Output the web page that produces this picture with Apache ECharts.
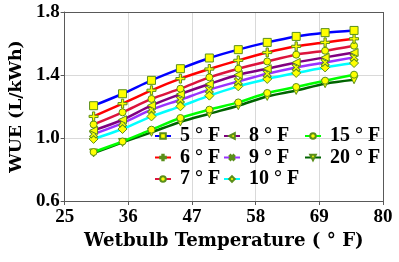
<!DOCTYPE html>
<html><head><meta charset="utf-8">
<script src="https://cdn.jsdelivr.net/npm/echarts@6/dist/echarts.min.js"></script>
<style>html,body{margin:0;padding:0;background:#fff}#c{width:399px;height:262px}</style>
</head><body><div id="c"></div>
<script>
const wetbulb = [30, 35, 40, 45, 50, 55, 60, 65, 70, 75];
const seriesNames = ['5 ° F', '6 ° F', '7 ° F', '8 ° F', '9 ° F', '10 ° F', '15 ° F', '20 ° F'];
const wue5  = [1.205, 1.281, 1.366, 1.440, 1.508, 1.561, 1.607, 1.645, 1.669, 1.683];
const wue6  = [1.137, 1.218, 1.303, 1.377, 1.438, 1.493, 1.543, 1.582, 1.607, 1.630];
const wue7  = [1.086, 1.163, 1.248, 1.313, 1.385, 1.440, 1.486, 1.529, 1.554, 1.586];
const wue8  = [1.048, 1.116, 1.207, 1.279, 1.343, 1.402, 1.440, 1.480, 1.512, 1.543];
const wue9  = [1.025, 1.095, 1.180, 1.243, 1.307, 1.359, 1.408, 1.448, 1.480, 1.512];
const wue10 = [0.994, 1.057, 1.137, 1.201, 1.269, 1.328, 1.375, 1.413, 1.448, 1.476];
const wue15 = [0.911, 0.978, 1.053, 1.127, 1.180, 1.226, 1.286, 1.324, 1.364, 1.402];
const wue20 = [0.905, 0.972, 1.036, 1.102, 1.154, 1.205, 1.264, 1.302, 1.345, 1.370];
const xTicks = [25, 36, 47, 58, 69, 80];
const yTicks = [0.6, 1.0, 1.4, 1.8];

const allData = [wue5, wue6, wue7, wue8, wue9, wue10, wue15, wue20];
const colors = ['#0000FF', '#FF0000', '#DC143C', '#800080', '#9933FF', '#00FFFF', '#00FF00', '#006400'];
const plus = 'path://M3,0H5V3H8V5H5V8H3V5H0V3H3Z';
const symbols = ['rect', plus, 'circle', 'triangle', plus, 'diamond', 'circle', 'triangle'];
const rotates = [0, 0, 0, 90, 45, 0, 0, 180];
const sizes = [8, 9, 7, 8, 9, 9, 7, 8];
const font = 'Liberation Serif';
const titleFont = 'DejaVu Serif';

const series = seriesNames.map((n, i) => ({
  name: n, type: 'line', smooth: 0.3,
  data: wetbulb.map((x, j) => [x, allData[i][j]]),
  symbol: symbols[i], symbolRotate: rotates[i], symbolSize: sizes[i],
  lineStyle: {color: colors[i], width: 2.5},
  itemStyle: {color: '#FFFF00', borderColor: '#5a8f1a', borderWidth: 1},
  color: colors[i],
  z: 10 - i
}));

const legendBase = {
  orient: 'vertical', itemWidth: 16, itemHeight: 7, itemGap: 1.5,
  textStyle: {fontFamily: font, fontWeight: 'bold', fontSize: 20, lineHeight: 20, color: '#000', padding: [0, 0, 0, 4]},
  padding: 0
};

const chart = echarts.init(document.getElementById('c'));
chart.setOption({
  animation: false,
  grid: {left: 64, right: 16, top: 12, bottom: 61},
  legend: [
    Object.assign({}, legendBase, {left: 154, top: 126, data: seriesNames.slice(0, 3)}),
    Object.assign({}, legendBase, {left: 223, top: 126, data: seriesNames.slice(3, 6)}),
    Object.assign({}, legendBase, {left: 304, top: 126, data: seriesNames.slice(6, 8)})
  ],
  xAxis: {
    type: 'value', min: 25, max: 80,
    name: 'Wetbulb Temperature ( ° F)', nameLocation: 'middle', nameGap: 31,
    nameTextStyle: {fontFamily: titleFont, fontWeight: 'bold', fontSize: 18.2, color: '#000'},
    axisLine: {show: true, lineStyle: {color: '#595959', width: 1}},
    axisTick: {show: true, length: 4, customValues: xTicks, lineStyle: {color: '#595959'}},
    axisLabel: {customValues: xTicks, fontFamily: font, fontWeight: 'bold', fontSize: 19, color: '#000', margin: 7},
    splitLine: {show: true, lineStyle: {color: '#d9d9d9', width: 1}}
  },
  yAxis: {
    type: 'value', min: 0.6, max: 1.8,
    name: 'WUE (L/kWh)', nameLocation: 'middle', nameGap: 39,
    nameTextStyle: {fontFamily: titleFont, fontWeight: 'bold', fontSize: 17.3, color: '#000'},
    axisLine: {show: true, lineStyle: {color: '#595959', width: 1}},
    axisTick: {show: true, length: 4, customValues: yTicks, lineStyle: {color: '#595959'}},
    axisLabel: {customValues: yTicks, formatter: v => v.toFixed(1), fontFamily: font, fontWeight: 'bold', fontSize: 19, color: '#000', margin: 5},
    splitLine: {show: true, lineStyle: {color: '#d9d9d9', width: 1}}
  },
  series: series.concat([{
    type: 'line', data: [], silent: true,
    markLine: {silent: true, symbol: 'none', label: {show: false},
      lineStyle: {color: '#595959', type: 'solid', width: 1},
      data: [[{coord: [80, 0.6]}, {coord: [80, 1.8]}], [{coord: [25, 1.8]}, {coord: [80, 1.8]}]]}
  }])
});
</script></body></html>
